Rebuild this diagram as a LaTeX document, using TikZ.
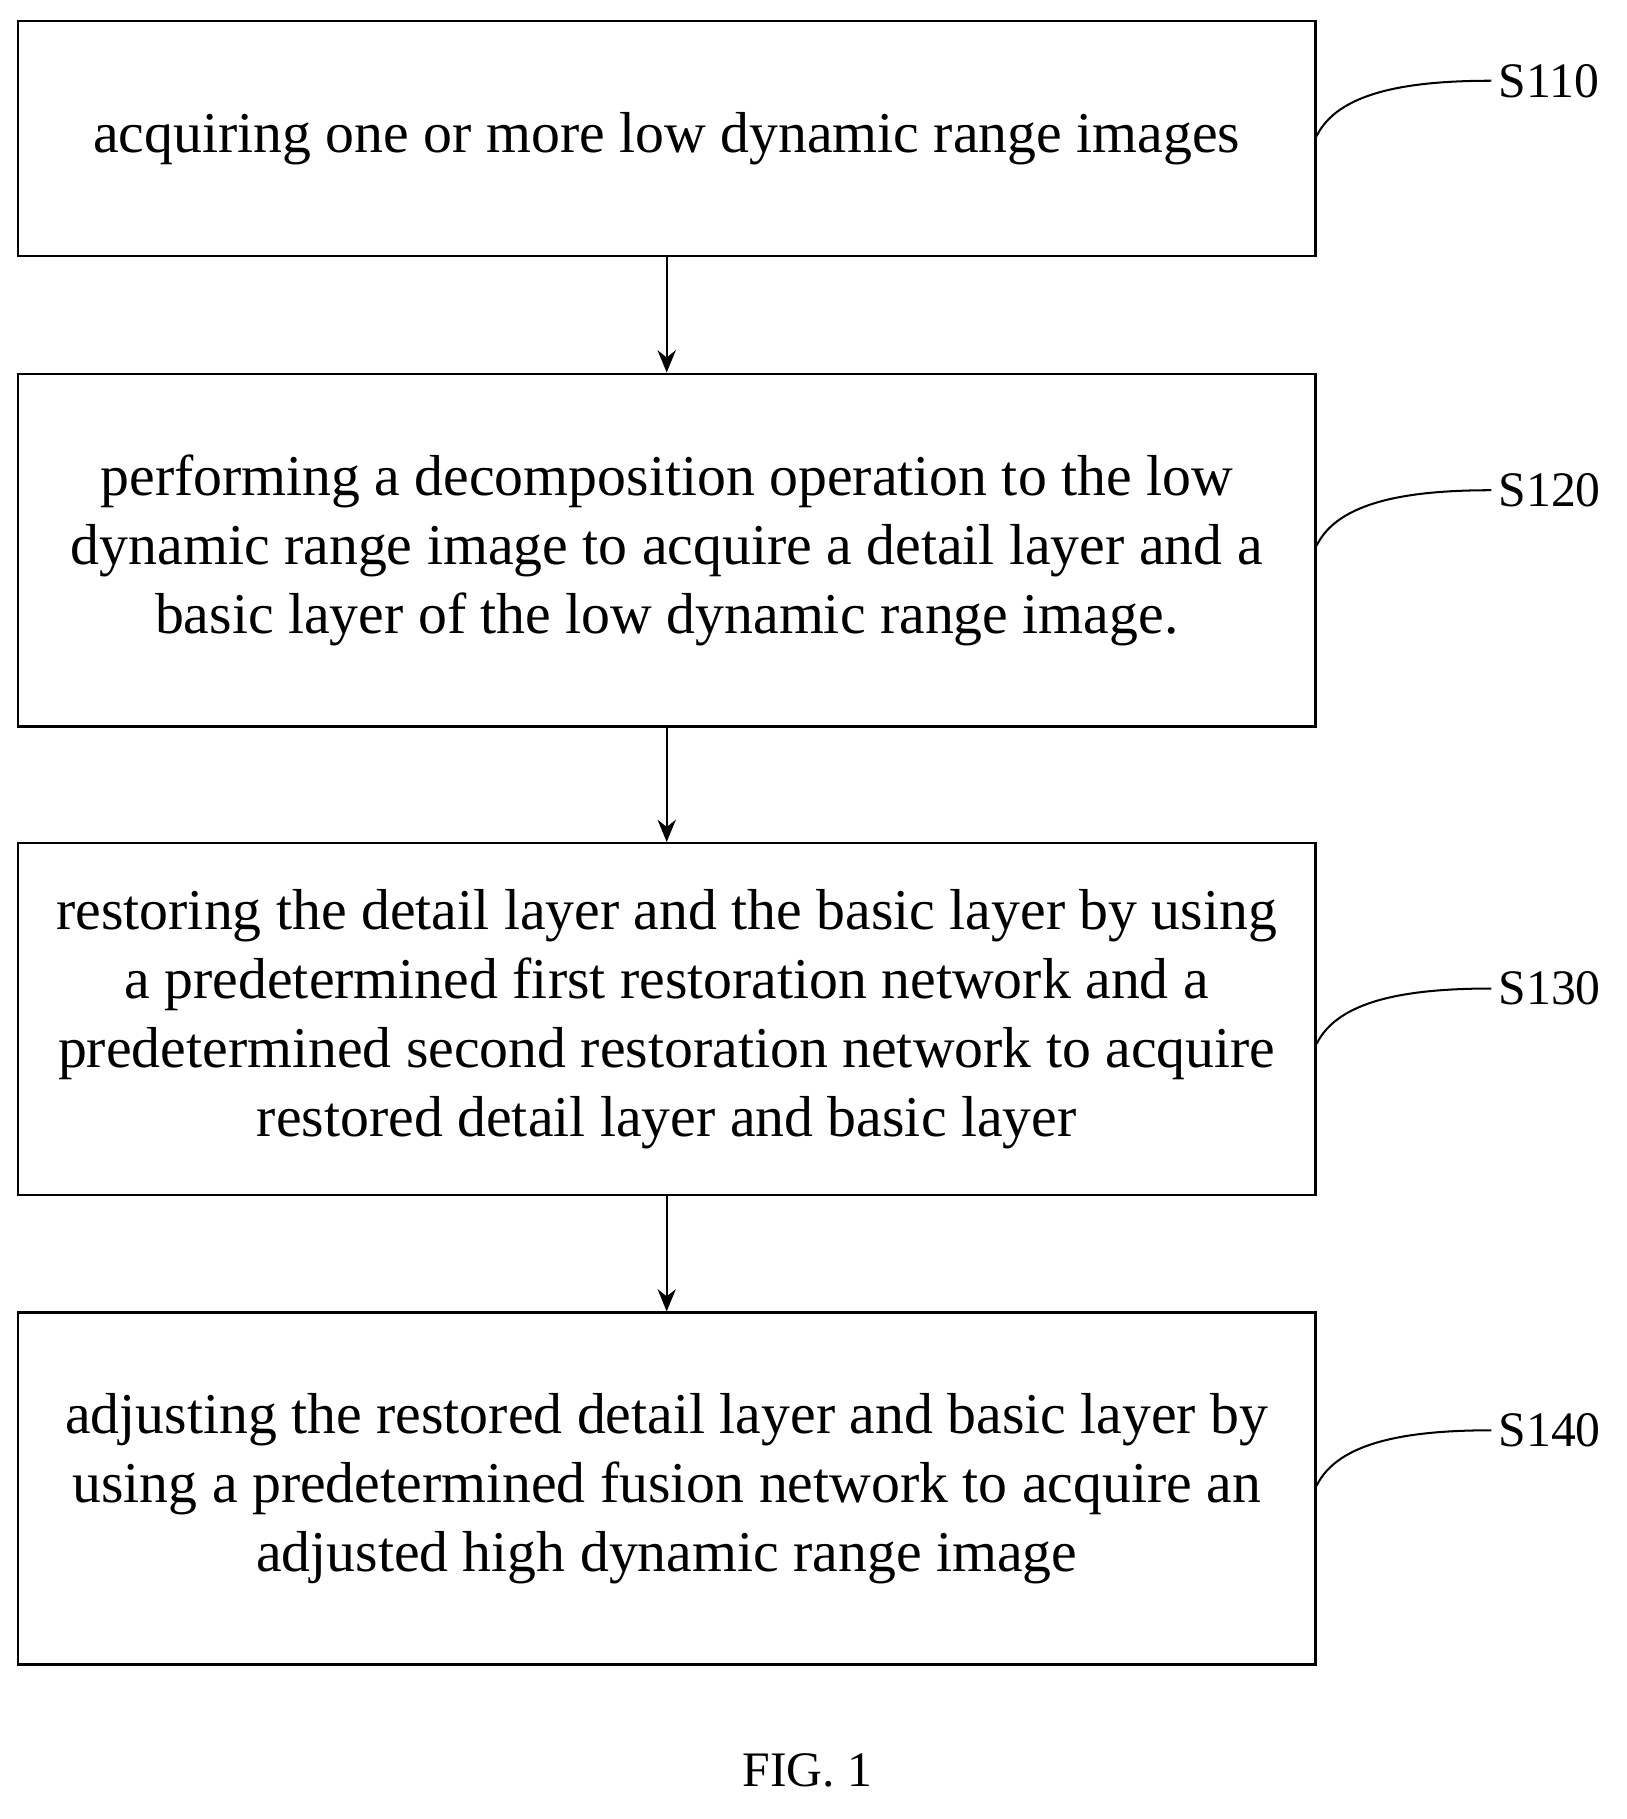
\documentclass[tikz,border=0pt]{standalone}
\usepackage{fontspec}
\setmainfont{Liberation Serif}
\usetikzlibrary{arrows.meta}
\begin{document}
\begin{tikzpicture}[x=0.02cm,y=-0.02cm,
 box/.style={draw,line width=1.2pt,minimum width=22.5cm,align=center,font=\fontsize{28.5}{34}\selectfont},
 lab/.style={font=\fontsize{24.5}{28}\selectfont,anchor=west},
 arr/.style={-{Stealth[length=11pt,width=9pt]},line width=1pt},
 lead/.style={line width=1pt}]
\useasboundingbox (0,0) rectangle (1410,1577);
\node[box,minimum height=4.08cm] (b1) at (578,120) {acquiring one or more low dynamic range images};
\node[box,minimum height=6.12cm] (b2) at (578,477) {performing a decomposition operation to the low\\dynamic range image to acquire a detail layer and a\\basic layer of the low dynamic range image.};
\node[box,minimum height=6.1cm] (b3) at (578,883.5) {restoring the detail layer and the basic layer by using\\a predetermined first restoration network and a\\predetermined second restoration network to acquire\\restored detail layer and basic layer};
\node[box,minimum height=6.1cm] (b4) at (578,1290.5) {adjusting the restored detail layer and basic layer by\\using a predetermined fusion network to acquire an\\adjusted high dynamic range image};
\draw[arr] (b1.south) -- (b2.north);
\draw[arr] (b2.south) -- (b3.north);
\draw[arr] (b3.south) -- (b4.north);
\foreach \b/\y/\t in {b1/70/S110,b2/425/S120,b3/857/S130,b4/1240/S140}{
 \node[lab] (l\b) at (1293,\y) {\t};
 \coordinate (s\b) at (\b.east |- 0,\y+48);
 \draw[lead] (s\b) .. controls (1160,\y+10) and (1220,\y) .. (l\b.west);
}
\node[font=\fontsize{24.5}{28}\selectfont] (fig) at (700,1535) {FIG. 1};
\end{tikzpicture}
\end{document}
